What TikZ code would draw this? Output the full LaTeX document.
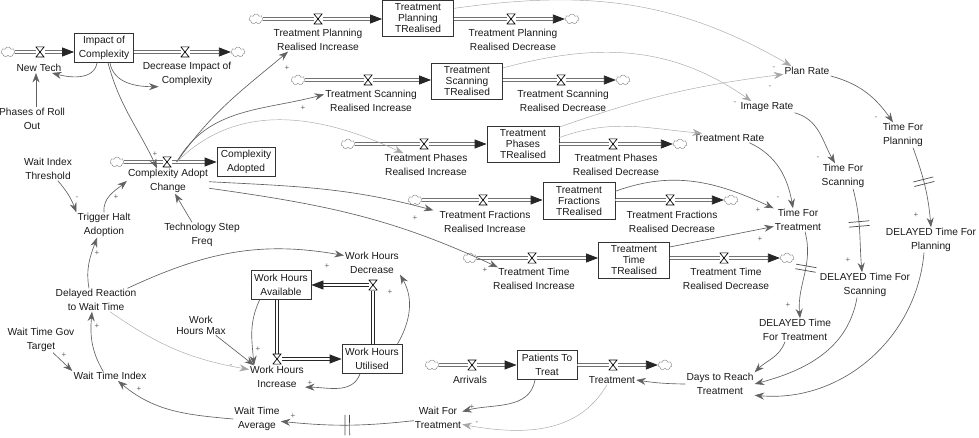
\documentclass[tikz,border=0pt]{standalone}
\usepackage{fontspec}
\setmainfont{Liberation Sans}
\usetikzlibrary{arrows.meta,shapes.symbols}

\begin{document}
\begin{tikzpicture}[x=1pt,y=1pt,
        font=\fontsize{10.2}{13.5}\selectfont,
        lbl/.style={align=center, inner sep=1pt, text=black!90},
        tight/.style={font=\fontsize{10.2}{11}\selectfont},
        stock/.style={draw=black!80, line width=0.8pt, align=center, inner sep=0pt, text=black!90},
        cld/.style={cloud, cloud puffs=7, aspect=1.5, draw=black!50, fill=white, minimum width=14pt, minimum height=10pt, inner sep=0pt},
        pipe/.style={draw=black!85, line width=0.8pt, double=white, double distance=1.6pt, -{Triangle[length=12pt,width=9pt]}},
        valve/.style={minimum width=9pt, minimum height=11pt, inner sep=0pt, fill=white,
            path picture={\draw[black, line width=0.7pt]
                ([shift={(0.4pt,-0.4pt)}]path picture bounding box.north west) --
                ([shift={(-0.4pt,-0.4pt)}]path picture bounding box.north east) --
                ([shift={(0.4pt,0.4pt)}]path picture bounding box.south west) --
                ([shift={(-0.4pt,0.4pt)}]path picture bounding box.south east) -- cycle;}},
        link/.style={draw=black!62, line width=0.65pt, -{Stealth[length=9.5pt,width=7pt]}},
        faint/.style={link, draw=black!35, line width=0.45pt},
        sgn/.style={text=black!60, font=\fontsize{8}{8}\selectfont, inner sep=0pt},
        dly/.style={sloped, inner sep=0pt, minimum width=4pt, minimum height=20pt},
        bars/.style={draw=black!70, line width=0.7pt}]
    \useasboundingbox (0,0) rectangle (979,-438);

    % Stocks.
        \node[stock, minimum width=59pt, minimum height=29pt] (sImpact) at (104,-48) {Impact of\\Complexity};
        \node[stock, minimum width=58pt, minimum height=29pt] (sAdopted) at (246,-162) {Complexity\\Adopted};
        \node[stock, tight, minimum width=71pt, minimum height=36pt] (sPlan) at (418,-18) {Treatment\\Planning\\TRealised};
        \node[stock, tight, minimum width=71pt, minimum height=36pt] (sScan) at (467,-81) {Treatment\\Scanning\\TRealised};
        \node[stock, tight, minimum width=72pt, minimum height=36pt] (sPhase) at (523,-144) {Treatment\\Phases\\TRealised};
        \node[stock, tight, minimum width=72pt, minimum height=37pt] (sFrac) at (579,-201) {Treatment\\Fractions\\TRealised};
        \node[stock, tight, minimum width=71pt, minimum height=36pt] (sTime) at (634,-260) {Treatment\\Time\\TRealised};
        \node[stock, minimum width=60pt, minimum height=29pt] (sAvail) at (281,-285) {Work Hours\\Available};
        \node[stock, minimum width=60pt, minimum height=29pt] (sUtil) at (372,-359) {Work Hours\\Utilised};
        \node[stock, minimum width=60pt, minimum height=29pt] (sPat) at (547,-365) {Patients To\\Treat};

    % Clouds at the ends of the pipes.
        \node[cld] (cNT) at (8,-52) {};
        \node[cld] (cDI) at (238,-52) {};
        \node[cld] (cCA) at (117,-162) {};
        \node[cld] (cPl1) at (256,-19) {};
        \node[cld] (cPl2) at (572,-19) {};
        \node[cld] (cSc1) at (298,-80) {};
        \node[cld] (cSc2) at (623,-80) {};
        \node[cld] (cPh1) at (348,-144) {};
        \node[cld] (cPh2) at (680,-144) {};
        \node[cld] (cFr1) at (415,-200) {};
        \node[cld] (cFr2) at (731,-200) {};
        \node[cld] (cTi1) at (470,-258) {};
        \node[cld] (cTi2) at (787,-258) {};
        \node[cld] (cAr) at (432,-365) {};
        \node[cld] (cTr) at (665,-365) {};

    % Pipes.
        \draw[pipe] (cNT) -- (cNT -| sImpact.west);
        \draw[pipe] (sImpact.east |- cDI) -- (cDI);
        \draw[pipe] (cCA) -- (cCA -| sAdopted.west);
        \draw[pipe] (cPl1) -- (cPl1 -| sPlan.west);
        \draw[pipe] (sPlan.east |- cPl2) -- (cPl2);
        \draw[pipe] (cSc1) -- (cSc1 -| sScan.west);
        \draw[pipe] (sScan.east |- cSc2) -- (cSc2);
        \draw[pipe] (cPh1) -- (cPh1 -| sPhase.west);
        \draw[pipe] (sPhase.east |- cPh2) -- (cPh2);
        \draw[pipe] (cFr1) -- (cFr1 -| sFrac.west);
        \draw[pipe] (sFrac.east |- cFr2) -- (cFr2);
        \draw[pipe] (cTi1) -- (cTi1 -| sTime.west);
        \draw[pipe] (sTime.east |- cTi2) -- (cTi2);
        \draw[pipe] (cAr) -- (cAr -| sPat.west);
        \draw[pipe] (sPat.east |- cTr) -- (cTr);
        \draw[pipe] ([xshift=-4pt]sAvail.south) |- (sUtil.west);
        \draw[pipe] ([xshift=1pt]sUtil.north) |- (sAvail.east);

    % Valves.
        \node[valve] (vNT) at (40,-52) {};
        \node[valve] (vDI) at (185,-52) {};
        \node[valve] (vCA) at (167,-162) {};
        \node[valve] (vPlI) at (318,-19) {};
        \node[valve] (vPlD) at (511,-19) {};
        \node[valve] (vScI) at (368,-80) {};
        \node[valve] (vScD) at (561,-80) {};
        \node[valve] (vPhI) at (424,-144) {};
        \node[valve] (vPhD) at (613,-144) {};
        \node[valve] (vFrI) at (483,-200) {};
        \node[valve] (vFrD) at (670,-200) {};
        \node[valve] (vTiI) at (532,-258) {};
        \node[valve] (vTiD) at (724,-258) {};
        \node[valve] (vAr) at (472,-365) {};
        \node[valve] (vTr) at (613,-365) {};
        \node[valve] (vWI) at (277,-359) {};
        \node[valve] (vWD) at (373,-285) {};

    % Below nodes are the flow labels.
        \node[lbl] (lNT) at (39,-68) {New Tech};
        \node[lbl] (lDI) at (187,-74) {Decrease Impact of\\Complexity};
        \node[lbl] (lCA) at (168,-181) {Complexity Adopt\\Change};
        \node[lbl] (lPlI) at (318,-40) {Treatment Planning\\Realised Increase};
        \node[lbl] (lPlD) at (513,-40) {Treatment Planning\\Realised Decrease};
        \node[lbl] (lScI) at (371,-101) {Treatment Scanning\\Realised Increase};
        \node[lbl] (lScD) at (563,-101) {Treatment Scanning\\Realised Decrease};
        \node[lbl] (lPhI) at (426,-165) {Treatment Phases\\Realised Increase};
        \node[lbl] (lPhD) at (616,-165) {Treatment Phases\\Realised Decrease};
        \node[lbl] (lFrI) at (485,-222) {Treatment Fractions\\Realised Increase};
        \node[lbl] (lFrD) at (672,-222) {Treatment Fractions\\Realised Decrease};
        \node[lbl] (lTiI) at (534,-279) {Treatment Time\\Realised Increase};
        \node[lbl] (lTiD) at (726,-279) {Treatment Time\\Realised Decrease};
        \node[lbl] (lAr) at (470,-380) {Arrivals};
        \node[lbl] (lTr) at (612,-380) {Treatment};
        \node[lbl] (lWI) at (277,-377) {Work Hours\\Increase};
        \node[lbl] (lWD) at (372,-263) {Work Hours\\Decrease};

    % Below nodes are the auxiliary variables.
        \node[lbl] (aPhases) at (32,-119) {Phases of Roll\\Out};
        \node[lbl] (aWIT) at (48,-169) {Wait Index\\Threshold};
        \node[lbl] (aTrig) at (104,-225) {Trigger Halt\\Adoption};
        \node[lbl] (aTech) at (202,-235) {Technology Step\\Freq};
        \node[lbl] (aDelay) at (96,-300) {Delayed Reaction\\to Wait Time};
        \node[lbl, tight] (aWHM) at (201,-325) {Work\\Hours Max};
        \node[lbl] (aGov) at (41,-340) {Wait Time Gov\\Target};
        \node[lbl] (aWTI) at (110,-376) {Wait Time Index};
        \node[lbl] (aWTA) at (257,-419) {Wait Time\\Average};
        \node[lbl] (aWFT) at (438,-418) {Wait For\\Treatment};
        \node[lbl] (aDays) at (720,-384) {Days to Reach\\Treatment};
        \node[lbl] (aPlanR) at (807,-71) {Plan Rate};
        \node[lbl] (aImgR) at (767,-107) {Image Rate};
        \node[lbl] (aTreR) at (729,-138) {Treatment Rate};
        \node[lbl] (aTFP) at (903,-135) {Time For\\Planning};
        \node[lbl] (aTFS) at (843,-176) {Time For\\Scanning};
        \node[lbl] (aTFT) at (798,-220) {Time For\\Treatment};
        \node[lbl] (aDTP) at (931,-240) {DELAYED Time For\\Planning};
        \node[lbl] (aDTS) at (865,-285) {DELAYED Time For\\Scanning};
        \node[lbl] (aDTT) at (795,-330) {DELAYED Time\\For Treatment};

    % Causal links, adoption part.
        \draw[link] ([xshift=-7pt]sImpact.south) to[out=-100,in=-15] ([xshift=13pt]lNT.south);
        \draw[link] ([xshift=6pt]sImpact.south) to[out=-80,in=180] ([xshift=17pt]lDI.south west);
        \draw[link] ([xshift=4pt]sImpact.south) to[out=-75,in=115] ([xshift=-11pt]lCA.north);
        \draw[link] ([xshift=4pt]aPhases.north) -- ([xshift=-3pt]lNT.south);
        \draw[link] (aWIT.-50) to[bend left=10] (aTrig.north west);
        \draw[link] (aTrig.north) to[out=95,in=220] (lCA.west);
        \draw[link] ([xshift=-10pt]aTech.north) -- ([xshift=7pt]lCA.south);
        \draw[link] ([xshift=-7pt]aDelay.north) to[out=100,in=-110] ([xshift=-7pt]aTrig.south);
        \draw[link] ([xshift=-7pt]aWTI.north) to[out=120,in=-95] ([xshift=-4pt]aDelay.south);
        \draw[link] ([xshift=12pt]aGov.south) -- (aWTI.north west);
        \draw[link] (aWTA.west) to[out=175,in=-40] ([xshift=8pt]aWTI.south);
        \draw[link] (aWFT) to[bend left=6] node[dly, pos=.5] (m1) {} (aWTA);
        \draw[link] ([xshift=5pt]vCA.east) to[out=55,in=220] ([xshift=-30pt]lPlI.south);
        \draw[link] ([xshift=5pt]vCA.east) to[out=60,in=195] (lScI.172);
        \draw[faint] ([xshift=5pt]vCA.east) to[out=45,in=155] ([xshift=20pt]lPhI.north west);
        \draw[link] (lCA.-1) to[out=-3,in=165] ([xshift=-5pt]lFrI.north west);
        \draw[link] (lCA.-10) to[out=-8,in=155] ([xshift=6pt]lTiI.north west);

    % Causal links, work hours and patients.
        \draw[link] ([xshift=-10pt]aDelay.north east) to[out=25,in=170] (lWD.165);
        \draw[faint] ([xshift=14pt]aDelay.south) to[out=-35,in=170] (lWI.165);
        \draw[link] (aWHM.-35) -- ([xshift=5pt]lWI.north west);
        \draw[link] ([xshift=9pt]sAvail.south west) to[out=-115,in=95] ([xshift=5pt]lWI.north west);
        \draw[link] ([xshift=-12pt]sUtil.south) to[out=-110,in=0] (lWI.-20);
        \draw[link] ([xshift=-5pt]sUtil.north east) to[out=60,in=-60] (lWD.south east);
        \draw[link] ([xshift=-12pt]sPat.south) to[out=-100,in=15] (aWFT.15);
        \draw[faint] ([xshift=-5pt]lTr.south) to[out=-120,in=-10] (aWFT.-15);
        \draw[link] (aDays.west) to[bend left=4] (lTr.east);

    % Causal links, treatment times.
        \draw[faint] (sPlan.15) to[out=8,in=150] ([xshift=8pt]aPlanR.north west);
        \draw[faint] (sScan.20) to[out=15,in=145] ([xshift=12pt]aImgR.north west);
        \draw[faint] (sPhase.25) to[bend left=6] (aPlanR.188);
        \draw[faint] (sPhase.10) to[out=20,in=175] (aTreR.170);
        \draw[link] (aPlanR.south east) to[out=-15,in=125] ([xshift=-10pt]aTFP.north);
        \draw[link] (aImgR.south east) to[out=-15,in=120] ([xshift=-8pt]aTFS.north);
        \draw[link] ([xshift=-16pt]aTreR.south east) to[out=-25,in=100] ([xshift=-5pt]aTFT.north);
        \draw[link] (sFrac.15) to[out=20,in=155] (aTFT.north west);
        \draw[link] (sTime.20) -- (aTFT.195);
        \draw[link] ([xshift=10pt]aTFP.south) to[out=-70,in=95] node[dly, pos=.43] (m4) {} (aDTP.north);
        \draw[link] ([xshift=10pt]aTFS.south) to[out=-75,in=95] node[dly, pos=.42] (m3) {} ([xshift=-3pt]aDTS.north);
        \draw[link] ([xshift=7pt]aTFT.south) to[out=-75,in=95] node[dly, pos=.42] (m2) {} ([xshift=5pt]aDTT.north);
        \draw[link] ([xshift=-10pt]aDTT.south) to[out=-110,in=45] (aDays.north east);
        \draw[link] ([xshift=-8pt]aDTS.south) to[out=-100,in=15] (aDays.east);
        \draw[link] ([xshift=-7pt]aDTP.south) to[out=-95,in=-5] (aDays.-18);

    % This draws the delay marks.
        \foreach \m in {m1,m2,m3,m4}
            \draw[bars] (\m.north west) -- (\m.south west) (\m.north east) -- (\m.south east);

    % Polarity signs.
        \node[sgn] (g1) at (77,-198) {-};
        \node[sgn] (g2) at (116,-197) {+};
        \node[sgn] (g3) at (155,-154) {+};
        \node[sgn] (g4) at (287,-68) {+};
        \node[sgn] (g5) at (303,-108) {+};
        \node[sgn] (g6) at (415,-218) {+};
        \node[sgn] (g7) at (485,-270) {+};
        \node[sgn] (g8) at (774,-68) {-};
        \node[sgn] (g9) at (770,-87) {-};
        \node[sgn] (g10) at (735,-103) {-};
        \node[sgn] (g11) at (876,-118) {-};
        \node[sgn] (g12) at (818,-158) {-};
        \node[sgn] (g13) at (778,-198) {-};
        \node[sgn] (g14) at (758,-210) {+};
        \node[sgn] (g15) at (760,-239) {+};
        \node[sgn] (g16) at (916,-215) {+};
        \node[sgn] (g17) at (848,-260) {+};
        \node[sgn] (g18) at (788,-305) {+};
        \node[sgn] (g19) at (97,-253) {+};
        \node[sgn] (g20) at (97,-326) {+};
        \node[sgn] (g21) at (64,-355) {+};
        \node[sgn] (g22) at (139,-389) {+};
        \node[sgn] (g23) at (327,-266) {+};
        \node[sgn] (g24) at (231,-366) {-};
        \node[sgn] (g25) at (258,-349) {+};
        \node[sgn] (g26) at (310,-383) {+};
        \node[sgn] (g27) at (390,-292) {+};
        \node[sgn] (g28) at (472,-407) {+};
        \node[sgn] (g29) at (477,-423) {-};
        \node[sgn] (g30) at (293,-416) {+};
\end{tikzpicture}
\end{document}
